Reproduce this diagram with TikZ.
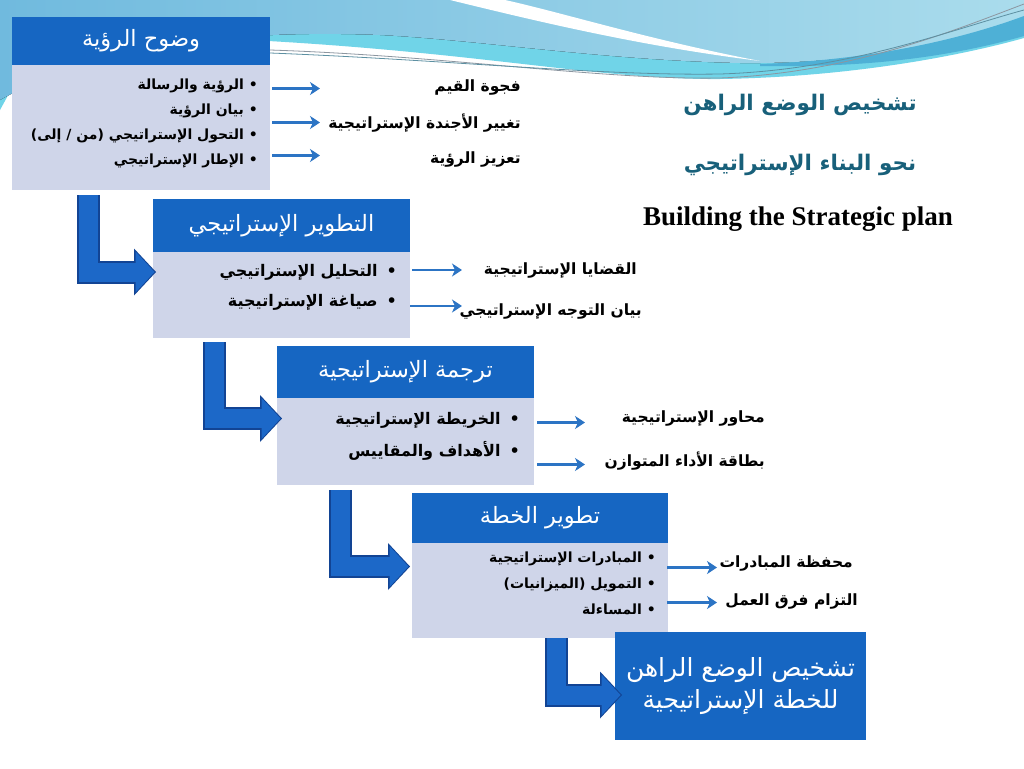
\documentclass[tikz,border=0pt]{standalone}
\usepackage{fontspec}
\usetikzlibrary{positioning,calc,arrows.meta}
\TeXXeTstate=1
\setmainfont{Liberation Serif}
\newfontfamily\arabicfont[Script=Arabic]{DejaVu Sans}

\definecolor{headblue}{RGB}{22,102,194}
\definecolor{bodygrey}{RGB}{207,213,233}
\definecolor{arrowblue}{RGB}{44,116,196}
\definecolor{bendblue}{RGB}{28,104,200}
\definecolor{bendedge}{RGB}{18,68,148}
\definecolor{tealtext}{RGB}{24,96,122}
\definecolor{skyleft}{RGB}{112,186,222}
\definecolor{skyright}{RGB}{170,220,236}
\definecolor{cyanband}{RGB}{112,212,232}
\definecolor{bandblue}{RGB}{78,176,214}
\definecolor{wavegrey}{RGB}{140,150,160}

\tikzset{
  head/.style={anchor=north west, fill=headblue, text=white, inner sep=0pt, outer sep=0pt,
    font=\arabicfont\fontsize{22.5}{26}\selectfont},
  body/.style={fill=bodygrey, inner sep=0pt, outer sep=0pt},
  items/.style={anchor=east, align=right, inner sep=0pt, font=\arabicfont\bfseries\fontsize{14}{25}\selectfont},
  result/.style={anchor=east, inner sep=0pt, font=\arabicfont\bfseries\fontsize{15.5}{18}\selectfont},
  pointer/.style={draw=arrowblue, line width=2.5pt, -{Stealth[length=10pt,width=13pt,inset=3pt]}},
  bendout/.style={draw=bendedge, line width=23pt, -{Triangle[length=22pt,width=47pt,line width=0pt]}},
  bendin/.style={draw=bendblue, line width=19pt, shorten >=1.5pt, -{Triangle[length=19pt,width=41pt,line width=0pt]}},
  heading/.style={text=tealtext, inner sep=0pt, font=\arabicfont\bfseries\fontsize{21.5}{26}\selectfont}
}
\newcommand{\bendarrow}[2]{%
  \draw[bendout] #1 |- #2;
  \draw[bendin] #1 |- #2;}

\begin{document}
\begin{tikzpicture}[x=1pt,y=-1pt]
\useasboundingbox (0,0) rectangle (1024,768);
\fill[white] (0,0) rectangle (1024,768);

% waves on top
\fill[cyanband] (250,40) .. controls (480,52) and (600,80) .. (720,79) .. controls (850,77) and (960,56) .. (1024,38) -- (1024,0) -- (250,0) -- cycle;
\fill[cyanband] (0,0) -- (60,0) -- (0,110) -- cycle;
\fill[left color=skyleft, right color=skyright] (0,0) -- (1024,0) -- (1024,20) .. controls (930,52) and (830,64) .. (740,63) .. controls (600,60) and (480,40) .. (380,35) .. controls (200,28) and (80,55) .. (0,100) -- cycle;
\fill[bandblue] (760,64) .. controls (880,60) and (970,36) .. (1024,16) -- (1024,36) .. controls (960,54) and (880,68) .. (760,66) -- cycle;
\fill[white] (450,0) .. controls (540,22) and (640,46) .. (760,61) .. controls (650,40) and (560,12) .. (505,0) -- cycle;
\draw[wavegrey, line width=0.8pt] (270,50) .. controls (450,56) and (600,80) .. (720,78) .. controls (850,73) and (950,32) .. (1024,4);
\draw[tealtext!70, line width=0.8pt] (270,53) .. controls (450,60) and (600,76) .. (720,74) .. controls (850,70) and (950,30) .. (1024,10);

% boxes
\node[head, minimum width=258, minimum height=48] (vhead) at (12,17) {\beginR وضوح الرؤية\endR};
\node[body, minimum width=258, minimum height=125, below=0pt of vhead] (vbody) {};
\node[head, minimum width=257, minimum height=53] (dhead) at (153,199) {\beginR التطوير الإستراتيجي\endR};
\node[body, minimum width=257, minimum height=86, below=0pt of dhead] (dbody) {};
\node[head, minimum width=257, minimum height=52] (thead) at (277,346) {\beginR ترجمة الإستراتيجية\endR};
\node[body, minimum width=257, minimum height=87, below=0pt of thead] (tbody) {};
\node[head, minimum width=256, minimum height=50] (phead) at (412,493) {\beginR تطوير الخطة\endR};
\node[body, minimum width=256, minimum height=95, below=0pt of phead] (pbody) {};
\node[head, minimum width=251, minimum height=108, align=center,
  font=\arabicfont\fontsize{25}{32}\selectfont] (final) at (615,632)
  {\beginR تشخيص الوضع الراهن\endR\\ \beginR للخطة الإستراتيجية\endR};

% lists
\node[items] (vlist) at ([xshift=-12,yshift=4]vbody.east)
  {\beginR • الرؤية والرسالة\endR\\ \beginR • بيان الرؤية\endR\\
   \beginR • التحول الإستراتيجي (من / إلى)\endR\\ \beginR • الإطار الإستراتيجي\endR};
\node[items, font=\arabicfont\bfseries\fontsize{16}{30}\selectfont] (dlist) at ([xshift=-13,yshift=8]dbody.east)
  {\beginR •\hspace{9pt}التحليل الإستراتيجي\endR\\ \beginR •\hspace{9pt}صياغة الإستراتيجية\endR};
\node[items, font=\arabicfont\bfseries\fontsize{16}{32}\selectfont] (tlist) at ([xshift=-14,yshift=5]tbody.east)
  {\beginR •\hspace{9pt}الخريطة الإستراتيجية\endR\\ \beginR •\hspace{9pt}الأهداف والمقاييس\endR};
\node[items, font=\arabicfont\bfseries\fontsize{14}{26}\selectfont] (plist) at ([xshift=-12,yshift=7]pbody.east)
  {\beginR • المبادرات الإستراتيجية\endR\\ \beginR • التمويل (الميزانيات)\endR\\ \beginR • المساءلة\endR};

% small arrows
\draw[pointer] ([xshift=2,yshift=39]vbody.east) -- +(48,0);
\draw[pointer] ([xshift=2,yshift=5]vbody.east) -- +(48,0);
\draw[pointer] ([xshift=2,yshift=-28]vbody.east) -- +(48,0);
\draw[pointer] ([xshift=2,yshift=25]dbody.east) -- +(50,0);
\draw[pointer] ([xshift=0,yshift=-11]dbody.east) -- +(52,0);
\draw[pointer] ([xshift=3,yshift=19]tbody.east) -- +(48,0);
\draw[pointer] ([xshift=3,yshift=-23]tbody.east) -- +(48,0);
\draw[pointer] ([xshift=-1,yshift=23]pbody.east) -- +(50,0);
\draw[pointer] ([xshift=-1,yshift=-12]pbody.east) -- +(50,0);

% results
\node[result] (v1) at (521,88) {\beginR فجوة القيم\endR};
\node[result] (v2) at (521,123) {\beginR تغيير الأجندة الإستراتيجية\endR};
\node[result] (v3) at (521,160) {\beginR تعزيز الرؤية\endR};
\node[result] (d1) at (637,271) {\beginR القضايا الإستراتيجية\endR};
\node[result] (d2) at (642,311) {\beginR بيان التوجه الإستراتيجي\endR};
\node[result] (t1) at (765,418) {\beginR محاور الإستراتيجية\endR};
\node[result] (t2) at (765,461) {\beginR بطاقة الأداء المتوازن\endR};
\node[result] (p1) at (853,563) {\beginR محفظة المبادرات\endR};
\node[result] (p2) at (858,601) {\beginR التزام فرق العمل\endR};

% bent arrows
\bendarrow{($(vbody.south west)+(76,5)$)}{($(dbody.west)+(3,-23)$)}
\bendarrow{($(dbody.south west)+(61,4)$)}{($(tbody.west)+(5,-23)$)}
\bendarrow{($(tbody.south west)+(63,5)$)}{($(pbody.west)+(-2,-24)$)}
\bendarrow{($(pbody.south west)+(144,0)$)}{($(final.west)+(7,9)$)}

% titles
\node[heading] (title1) at (800,105) {\beginR تشخيص الوضع الراهن\endR};
\node[heading] (title2) at (800,165) {\beginR نحو البناء الإستراتيجي\endR};
\node[inner sep=0pt, font=\bfseries\fontsize{27}{31}\selectfont] (title3) at (798,219) {Building the Strategic plan};
\end{tikzpicture}
\end{document}
